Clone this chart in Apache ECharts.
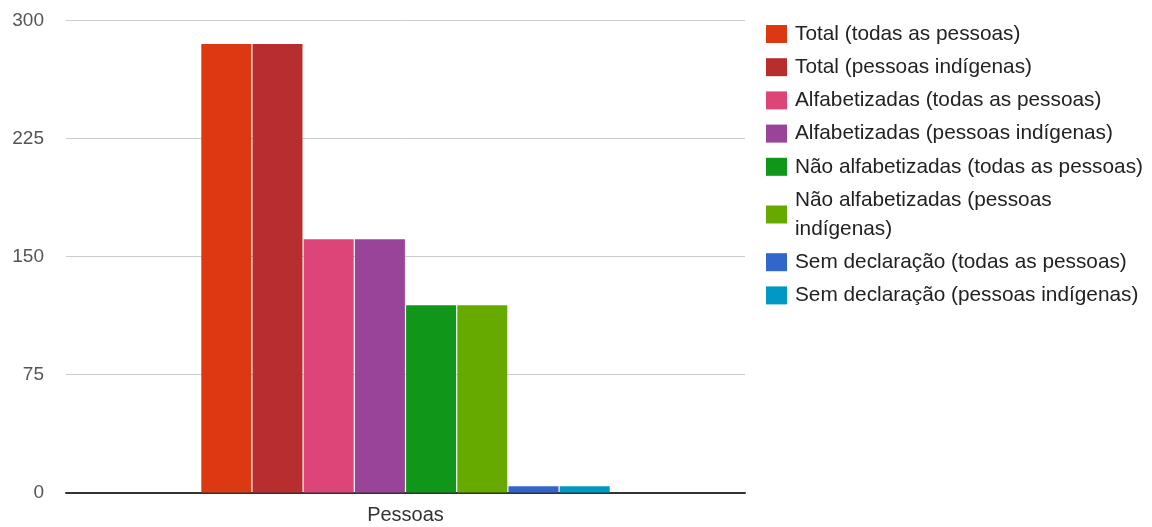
<!DOCTYPE html>
<html>
<head>
<meta charset="utf-8">
<script src="https://cdn.jsdelivr.net/npm/echarts@6/dist/echarts.min.js"></script>
<style>
  html, body { margin: 0; padding: 0; background: #fff; }
  #chart { width: 1152px; height: 527px; }
</style>
</head>
<body>
<div id="chart"></div>
<script>
// dados
var categories = ['Pessoas'];
var seriesNames = [
  'Total (todas as pessoas)',
  'Total (pessoas indígenas)',
  'Alfabetizadas (todas as pessoas)',
  'Alfabetizadas (pessoas indígenas)',
  'Não alfabetizadas (todas as pessoas)',
  'Não alfabetizadas (pessoas indígenas)',
  'Sem declaração (todas as pessoas)',
  'Sem declaração (pessoas indígenas)'
];
var seriesValues = [285, 285, 161, 161, 119, 119, 4, 4];
var yTicks = [0, 75, 150, 225, 300];
var colors = ['#dc3912', '#b82e2e', '#dd4477', '#994499', '#109618', '#66aa00', '#3366cc', '#0099c6'];

var chart = echarts.init(document.getElementById('chart'));

var series = seriesNames.map(function (name, i) {
  return {
    name: name,
    type: 'bar',
    data: [seriesValues[i]],
    barWidth: 50,
    barGap: '2.4%',
    itemStyle: { color: colors[i] }
  };
});

var option = {
  animation: false,
  textStyle: { fontFamily: 'Arial, "Liberation Sans", sans-serif' },
  grid: { left: 66, right: 407, top: 20.5, bottom: 34.5, containLabel: false },
  legend: {
    orient: 'vertical',
    left: 766,
    top: 19.5,
    padding: 0,
    itemWidth: 21,
    itemHeight: 18,
    itemGap: 4.2,
    icon: 'rect',
    data: seriesNames,
    formatter: function (name) {
      // quebra de linha como no original
      if (name === 'Não alfabetizadas (pessoas indígenas)') {
        return 'Não alfabetizadas (pessoas\nindígenas)';
      }
      return name;
    },
    textStyle: { fontSize: 20.8, color: '#222', lineHeight: 29, padding: [0, 0, 0, 3] }
  },
  xAxis: {
    type: 'category',
    data: categories,
    axisLine: { lineStyle: { color: '#333', width: 2 } },
    axisTick: { show: false },
    axisLabel: { fontSize: 20, color: '#333', margin: 13 }
  },
  yAxis: {
    type: 'value',
    min: yTicks[0],
    max: yTicks[yTicks.length - 1],
    interval: 75,
    axisLine: { show: false },
    axisTick: { show: false },
    axisLabel: { fontSize: 19, color: '#555', margin: 22 },
    splitLine: { lineStyle: { color: '#cccccc', width: 1 } }
  },
  series: series
};

chart.setOption(option);
</script>
</body>
</html>
